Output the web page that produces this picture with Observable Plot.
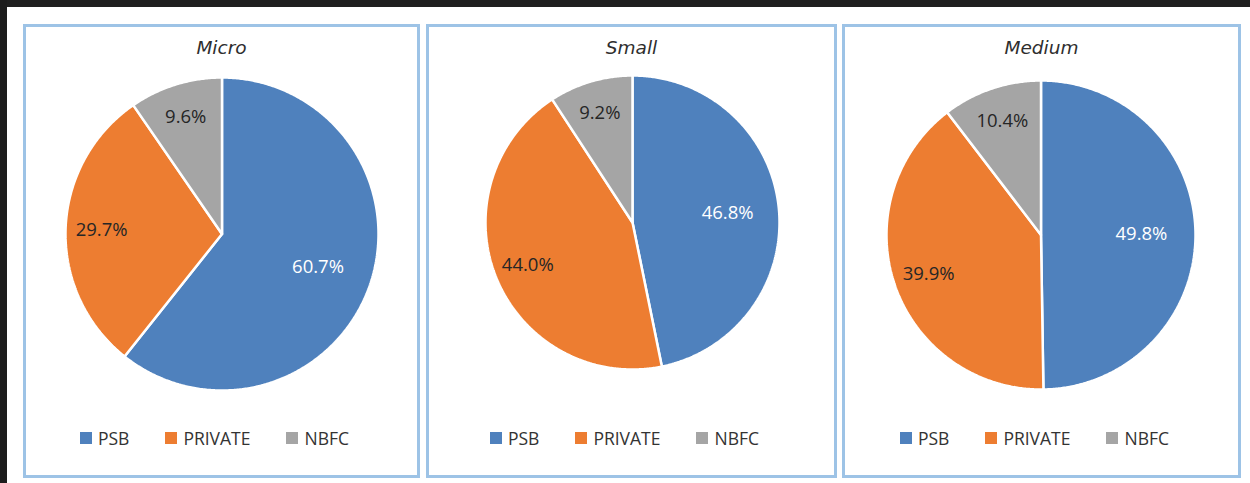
<!DOCTYPE html>
<html>
<head>
<meta charset="utf-8">
<script src="https://cdn.jsdelivr.net/npm/d3@7"></script>
<script src="https://cdn.jsdelivr.net/npm/@observablehq/plot@0.6"></script>
<style>
  html, body { margin: 0; padding: 0; background: #ffffff; width: 1250px; height: 483px; overflow: hidden; position: relative; }
  .band-top { position: absolute; left: 0; top: 0; width: 1250px; height: 7px; background: #1f1f1f; }
  .band-left { position: absolute; left: 0; top: 0; width: 7px; height: 483px; background: #1c1c1c; }
  .panel { position: absolute; box-sizing: border-box; border: 3px solid #9dc3e6; background: #fff; }
  .title { position: absolute; left: 0; right: 0; text-align: center; font-family: "DejaVu Sans", sans-serif; font-style: italic; font-size: 18.5px; color: #2e2e2e; }
  .legend { position: absolute; left: 0; right: 0; display: flex; justify-content: center; padding-right: 14px; font-family: "Open Sans", sans-serif; font-size: 17.5px; color: #333333; }
  .legend .item { display: flex; align-items: center; margin: 0 18px; }
  .legend .sw { width: 12px; height: 12px; margin-right: 6px; }
  .pie { position: absolute; }
</style>
</head>
<body>
<div class="band-top"></div>
<div class="band-left"></div>
<script>
// ---- data ----
const categories = ["Micro", "Small", "Medium"];
const segments = ["PSB", "PRIVATE", "NBFC"];
const microShares = [60.7, 29.7, 9.6];
const smallShares = [46.8, 44.0, 9.2];
const mediumShares = [49.8, 39.9, 10.4];

// ---- styles / layout ----
const segmentColors = ["#4f81bd", "#ed7d31", "#a5a5a5"];
const labelColors = { PSB: "#ffffff", PRIVATE: "#262626", NBFC: "#262626" };
const labelRadius = { PSB: 0.65, PRIVATE: 0.77, NBFC: 0.78 };
const panels = [
  { left: 23, top: 24, width: 397, height: 454, cx: 221.5, cy: 233.5, r: 156.5 },
  { left: 426, top: 24, width: 411, height: 454, cx: 632, cy: 222, r: 147 },
  { left: 842, top: 24, width: 399, height: 454, cx: 1040.5, cy: 234.5, r: 154.5 }
];
const seriesValues = [microShares, smallShares, mediumShares];

categories.forEach((cat, i) => {
  const p = panels[i];
  const rows = segments.map((name, j) => ({ name, value: seriesValues[i][j] }));

  const panel = document.createElement("div");
  panel.className = "panel";
  Object.assign(panel.style, { left: p.left + "px", top: p.top + "px", width: p.width + "px", height: p.height + "px" });
  document.body.appendChild(panel);

  const title = document.createElement("div");
  title.className = "title";
  title.style.top = "10px";
  title.textContent = cat;
  panel.appendChild(title);

  const legend = document.createElement("div");
  legend.className = "legend";
  legend.style.top = "399px";
  segments.forEach((s, j) => {
    const it = document.createElement("div");
    it.className = "item";
    const sw = document.createElement("div");
    sw.className = "sw";
    sw.style.background = segmentColors[j];
    const tx = document.createElement("span");
    tx.textContent = s;
    it.appendChild(sw); it.appendChild(tx);
    legend.appendChild(it);
  });
  panel.appendChild(legend);

  // pie geometry from data
  const arcs = d3.pie().sort(null).value(d => d.value)(rows);
  const poly = [];
  const labels = [];
  arcs.forEach(a => {
    const name = a.data.name;
    poly.push({ name, x: 0, y: 0 });
    const n = Math.max(2, Math.ceil((a.endAngle - a.startAngle) / (Math.PI / 360)));
    for (let k = 0; k <= n; k++) {
      const t = a.startAngle + (a.endAngle - a.startAngle) * k / n;
      poly.push({ name, x: Math.sin(t), y: Math.cos(t) });
    }
    poly.push({ name, x: 0, y: 0 });
    const m = (a.startAngle + a.endAngle) / 2;
    const f = labelRadius[name];
    labels.push({ name, x: f * Math.sin(m), y: f * Math.cos(m), text: a.data.value.toFixed(1) + "%" });
  });

  const margin = 4;
  const chart = Plot.plot({
    width: 2 * p.r + 2 * margin,
    height: 2 * p.r + 2 * margin,
    margin,
    axis: null,
    x: { domain: [-1, 1] },
    y: { domain: [-1, 1] },
    color: { domain: segments, range: segmentColors },
    style: { background: "transparent", overflow: "visible" },
    marks: [
      Plot.line(poly, { x: "x", y: "y", z: "name", fill: "name", stroke: "#ffffff", strokeWidth: 2.5, strokeLinejoin: "miter", curve: "linear" }),
      ...segments.map(s => Plot.text(labels.filter(d => d.name === s), {
        x: "x", y: "y", text: "text", fill: labelColors[s],
        fontFamily: "Open Sans", fontSize: 18.5
      }))
    ]
  });
  chart.classList.add("pie");
  chart.style.left = (p.cx - p.r - margin) + "px";
  chart.style.top = (p.cy - p.r - margin) + "px";
  document.body.appendChild(chart);
});
</script>
</body>
</html>
